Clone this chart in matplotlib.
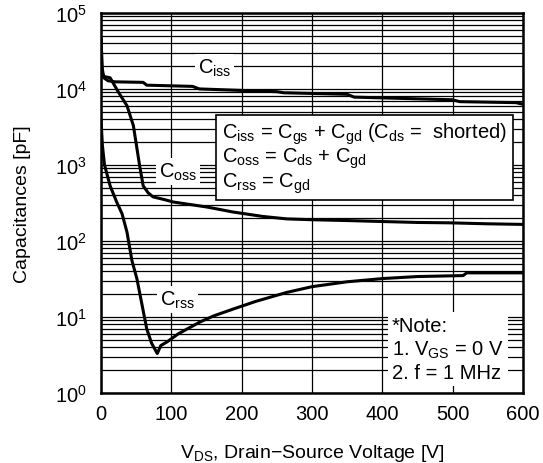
import matplotlib.pyplot as plt
from matplotlib.ticker import LogLocator, NullFormatter

plt.rcParams['font.family'] = ['Liberation Sans', 'DejaVu Sans']
plt.rcParams['mathtext.fontset'] = 'custom'
plt.rcParams['mathtext.rm'] = 'Liberation Sans'
plt.rcParams['mathtext.it'] = 'Liberation Sans:italic'
plt.rcParams['mathtext.bf'] = 'Liberation Sans:bold'

# Ciss
ciss_v = [0, 2, 4, 10, 20, 60, 65, 130, 140, 250, 260, 350, 360, 500, 510, 590, 600]
ciss_c = [4.5e4, 1.8e4, 1.4e4, 1.28e4, 1.24e4, 1.22e4, 1.12e4, 1.08e4, 1.0e4,
          9.2e3, 8.9e3, 8.5e3, 7.8e3, 7.2e3, 6.8e3, 6.6e3, 6.3e3]

# Coss
coss_v = [0, 1, 5, 13, 25, 37, 46, 55, 60, 67, 74, 90, 103, 150, 188, 230,
          264, 300, 354, 400, 450, 496, 550, 600]
coss_c = [4.5e4, 1.6e4, 1.45e4, 1.4e4, 9e3, 6e3, 3.3e3, 970, 530, 430, 380,
          350, 325, 280, 240, 210, 195, 190, 185, 180, 175, 173, 168, 165]

# Crss
crss_v = [0, 2, 5, 13, 22, 30, 37, 44, 51, 58, 65, 72, 80, 85, 94, 110, 141,
          160, 188, 220, 264, 300, 350, 401, 450, 515, 520, 600]
crss_c = [4e3, 1.8e3, 1e3, 530, 330, 227, 130, 55, 32, 15, 7, 4.5, 3.3, 4.2,
          4.7, 6, 8.6, 10.3, 12.7, 16, 21, 25, 29, 32, 34, 35, 38, 38]

x_ticks = [0, 100, 200, 300, 400, 500, 600]

fig = plt.figure(figsize=(5.43, 4.64), dpi=100)
ax = fig.add_axes([0.186, 0.151, 0.777, 0.819])

ax.plot(ciss_v, ciss_c, color='black', lw=2.2)
ax.plot(coss_v, coss_c, color='black', lw=2.2)
ax.plot(crss_v, crss_c, color='black', lw=2.2)

ax.set_yscale('log')
ax.set_xlim(0, 600)
ax.set_ylim(1, 1e5)
ax.set_xticks(x_ticks)
ax.yaxis.set_major_locator(LogLocator(base=10, numticks=10))
ax.yaxis.set_minor_locator(LogLocator(base=10, subs=range(2, 10), numticks=100))
ax.yaxis.set_minor_formatter(NullFormatter())
ax.grid(True, which='both', axis='y', color='black', lw=0.9)
ax.grid(True, which='major', axis='x', color='black', lw=0.9)
ax.tick_params(which='both', length=0, labelsize=14.5)
ax.tick_params(axis='x', pad=8)
ax.tick_params(axis='y', pad=10)
for s in ax.spines.values():
    s.set_linewidth(1.8)

ax.set_xlabel('V$_{\\mathregular{DS}}$, Drain\u2212Source Voltage [V]', fontsize=14, labelpad=14)
ax.set_ylabel('Capacitances [pF]', fontsize=14, labelpad=17)

lbl = dict(fontsize=14.5, ha='center', va='center',
           bbox=dict(facecolor='white', edgecolor='none', pad=2))
ax.text(162, 1.9e4, 'C$_{\\mathregular{iss}}$', **lbl)
ax.text(109, 820, 'C$_{\\mathregular{oss}}$', **lbl)
ax.text(109, 17, 'C$_{\\mathregular{rss}}$', **lbl)

formula = ('C$_{\\mathregular{iss}}$ = C$_{\\mathregular{gs}}$ + C$_{\\mathregular{gd}}$ '
           '(C$_{\\mathregular{ds}}$ =  shorted)\n'
           'C$_{\\mathregular{oss}}$ = C$_{\\mathregular{ds}}$ + C$_{\\mathregular{gd}}$\n'
           'C$_{\\mathregular{rss}}$ = C$_{\\mathregular{gd}}$')
ax.text(172, 1.25e3, formula, fontsize=14.5, ha='left', va='center', linespacing=1.0,
        bbox=dict(facecolor='white', edgecolor='black', lw=1.2, pad=4))

note = '*Note:\n1. V$_{\\mathregular{GS}}$ = 0 V\n2. f = 1 MHz'
ax.text(414, 3.8, note, fontsize=14.5, ha='left', va='center', linespacing=1.2,
        bbox=dict(facecolor='white', edgecolor='none', pad=3))

fig.savefig('out.png', dpi=100)
